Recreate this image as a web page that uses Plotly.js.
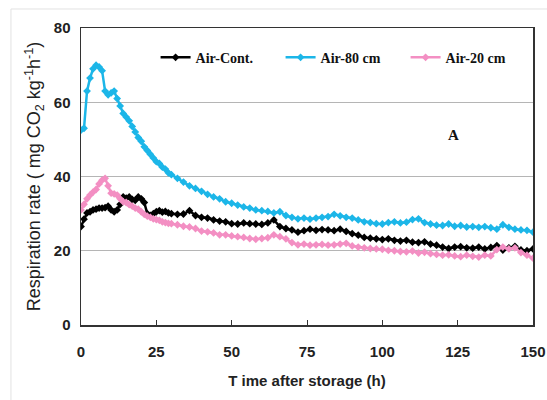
<!DOCTYPE html>
<html><head><meta charset="utf-8">
<script src="https://cdn.plot.ly/plotly-3.0.1.min.js"></script>
<style>html,body{margin:0;padding:0;background:#fff;}#chart{width:547px;height:400px;}</style>
</head><body><div id="chart"></div>
<script>
// time after storage (h)
const hours = [0,1,2,3,4,5,6,7,8,9,10,11,12,13,14,15,16,17,18,19,20,21,22,23,24,25,26,27,28,29,30,
  32,34,36,38,40,42,44,46,48,50,52,54,56,58,60,62,64,66,68,70,72,74,76,78,80,82,84,86,88,90,
  92,94,96,98,100,102,104,106,108,110,112,114,116,118,120,122,124,126,128,130,132,134,136,138,140,142,144,146,148,150];

const airCont = [26.5,28.5,30.2,30.5,31,31.2,31.5,31.5,31.6,32,31,30.5,31,32.5,34.5,34.2,34.5,33.8,33.6,34.5,34,33,30,29.5,30,30.5,30.8,30.4,30.6,30.2,30,
  29.8,29.9,30.8,29.5,29,28.8,28.3,28,27.8,27.3,27.2,27.5,27.3,27.2,27.1,27.5,28.3,26.5,26,25.6,25,25.4,25.8,25.5,25.7,25.6,25.4,25.8,25.2,24.6,
  24.2,23.6,23.4,23.2,23,23.2,22.8,22.6,22.8,22.3,22.2,22.4,21.8,21.5,21,20.6,21,21.1,20.8,20.7,21,20.5,20.9,21.4,20.2,20.8,21.2,20.2,20,20.5];

const air80 = [52.5,53,63,66.5,69,70,69.5,68.5,63,62,62.5,63,61,59,57,56,55,53.5,52,50.5,49.5,48,47,46,45,44,43.5,42.5,42,41,40.5,
  39.5,38.5,37.5,36.8,36,35.2,34.5,34,33.2,32.8,32.3,31.8,31.5,31,30.8,30.6,30.2,30.5,29.5,29,28.6,28.8,28.5,28.8,29,29.2,29.8,29.4,29,28.8,
  28.3,27.8,27.6,27.3,27.2,27.6,27.8,27.5,27.7,28.4,28.6,27.6,27.2,26.9,26.8,27.2,26.6,26.8,26.4,26.5,26.3,26.5,26.2,25.8,27,26.3,25.8,25.6,25.5,25];

const air20 = [31,32.5,34,35,35.8,36.5,38,39,39.5,37.5,35.5,35.3,35,34,33.2,33,32.4,32,31.5,31.2,30.5,29.8,29.3,29,28.6,28.4,28.2,27.8,27.6,27.4,27.3,
  27,26.6,26.4,26,25.3,25.1,24.8,24.3,24.3,24,23.8,23.6,23.3,23.1,23.3,23.5,24.3,23.8,23.2,22.2,21.6,21.8,21.5,21.6,21.7,21.5,21.6,21.8,22,21.3,
  21,20.8,20.6,20.5,20.4,20.1,20,19.8,19.7,19.9,19.4,19.6,19.2,19,18.8,18.9,18.6,18.4,18.8,18.5,18.3,18.8,18.6,20.3,21,20.5,20.8,19.5,18.8,18];

const seriesNames = ['Air-Cont.', 'Air-80 cm', 'Air-20 cm'];
const xTicks = [0,25,50,75,100,125,150];
const yTicks = [0,20,40,60,80];

const colors = ['#000000', '#1cb6e8', '#f38fc3'];
const ys = [airCont, air80, air20];

const traces = ys.map((y, i) => ({
  x: hours, y: y, name: seriesNames[i], type: 'scatter', mode: 'lines+markers',
  line: {color: colors[i], width: 2.5},
  marker: {symbol: 'diamond', size: 6, color: colors[i]}
}));

const layout = {
  width: 547, height: 400,
  margin: {l: 81, r: 14, t: 28, b: 75},
  paper_bgcolor: '#ffffff', plot_bgcolor: '#ffffff',
  showlegend: true,
  legend: {orientation: 'h', x: 0.165, y: 0.90, xanchor: 'left', yanchor: 'middle',
    font: {family: 'Liberation Serif, Times New Roman, serif', size: 14, color: '#111', weight: 'bold'},
    bgcolor: 'rgba(0,0,0,0)', entrywidth: 80, itemwidth: 30},
  xaxis: {range: [0, 150], tickvals: xTicks, ticktext: xTicks.map(String),
    showgrid: false, zeroline: false, showline: true, linecolor: '#333', linewidth: 1.5, mirror: true,
    ticks: 'inside', ticklen: 5, tickcolor: '#333', ticklabelstandoff: 12,
    tickfont: {family: 'Arial, Liberation Sans, sans-serif', size: 15, color: '#222', weight: 'bold'},
    title: {text: 'T ime after storage (h)', standoff: 17,
      font: {family: 'Arial, Liberation Sans, sans-serif', size: 15, color: '#222', weight: 'bold'}}},
  yaxis: {range: [0, 80], tickvals: yTicks, ticktext: yTicks.map(String),
    showgrid: true, gridcolor: '#b5b5b5', gridwidth: 1.2, zeroline: false,
    showline: true, linecolor: '#333', linewidth: 1.5, mirror: true, ticks: '', ticklabelstandoff: 6,
    tickfont: {family: 'Arial, Liberation Sans, sans-serif', size: 15, color: '#222', weight: 'bold'},
    title: {text: 'Respiration rate ( mg CO<sub>2</sub> kg<sup>-1</sup>h<sup>-1</sup>)', standoff: 8,
      font: {family: 'Arial, Liberation Sans, sans-serif', size: 18, color: '#222'}}},
  annotations: [{x: 123.5, y: 51.2, xref: 'x', yref: 'y', text: 'A', showarrow: false,
    font: {family: 'Liberation Serif, Times New Roman, serif', size: 15, color: '#111', weight: 'bold'}}],
  shapes: [
    {type: 'line', xref: 'paper', yref: 'paper', x0: -0.155, x1: -0.155, y0: -0.3, y1: 1.064, line: {color: '#e2e2e2', width: 1}},
    {type: 'line', xref: 'paper', yref: 'paper', x0: -0.155, x1: 1.04, y0: 1.064, y1: 1.064, line: {color: '#e2e2e2', width: 1}}
  ]
};

Plotly.newPlot('chart', traces, layout, {displayModeBar: false, staticPlot: true});
</script></body></html>
